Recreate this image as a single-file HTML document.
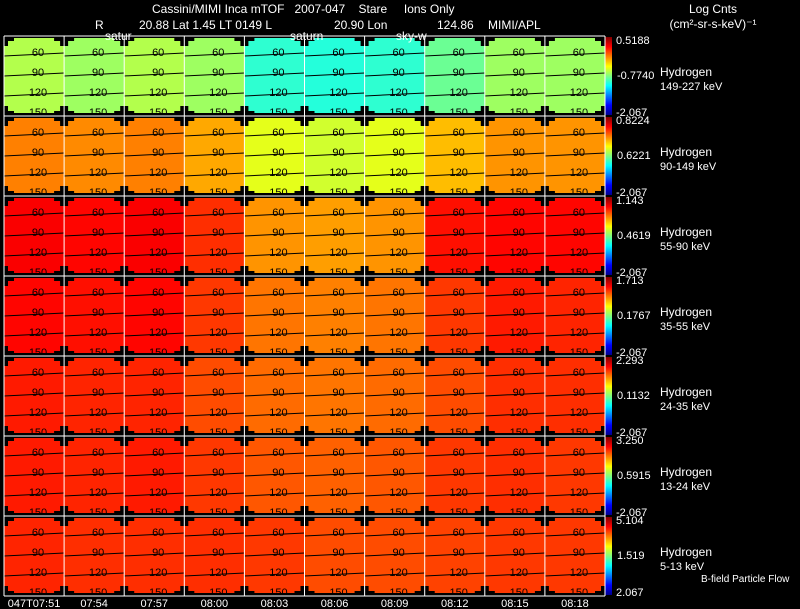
<!DOCTYPE html>
<html><head><meta charset="utf-8">
<style>
html,body{margin:0;padding:0;background:#000;}
svg{display:block;font-family:"Liberation Sans",Arial,sans-serif;}
text{white-space:pre;}
.w{fill:#fff;font-size:12px;}
.n{fill:#000;font-size:11px;}
</style></head>
<body>
<svg id="chart" width="800" height="609" viewBox="0 0 800 609">
<defs>
<linearGradient id="jet" x1="0" y1="1" x2="0" y2="0">
<stop offset="0" stop-color="#00008f"/><stop offset="0.125" stop-color="#0000ff"/>
<stop offset="0.375" stop-color="#00ffff"/><stop offset="0.625" stop-color="#ffff00"/>
<stop offset="0.875" stop-color="#ff0000"/><stop offset="1" stop-color="#800000"/>
</linearGradient>
</defs>
<text class="w" x="152" y="13" xml:space="preserve">Cassini/MIMI Inca mTOF   2007-047    Stare     Ions Only</text>
<g>
<text class="w" x="95" y="29">R</text>
<text class="w" x="139" y="29">20.88 Lat 1.45 LT 0149 L</text>
<text class="w" x="334" y="29">20.90 Lon</text>
<text class="w" x="437" y="29">124.86</text>
<text class="w" x="488" y="29">MIMI/APL</text>
</g>
<text class="w" x="713" y="13" text-anchor="middle">Log Cnts</text>
<text class="w" x="713" y="28" text-anchor="middle">(cm²-sr-s-keV)⁻¹</text>
<g id="panels"></g>
<text class="w" x="105" y="40">satur</text>
<text class="w" x="290" y="40">saturn</text>
<text class="w" x="396" y="40">sky-w</text>
<text class="w" x="701" y="582" style="font-size:10px">B-field Particle Flow</text>
</svg>
<script>
const times=["047T07:51","07:54","07:57","08:00","08:03","08:06","08:09","08:12","08:15","08:18"];
const channels=["149-227 keV","90-149 keV","55-90 keV","35-55 keV","24-35 keV","13-24 keV","5-13 keV"];
const cbTop=["0.5188","0.8224","1.143","1.713","2.293","3.250","5.104"];
const cbMid=["-0.7740","0.6221","0.4619","0.1767","0.1132","0.5915","1.519"];
const cbBot=["-2.067","-2.067","-2.067","-2.067","-2.067","-2.067","2.067"];
const angleTicks=["60","90","120","150"];
const levels=[
[0.55,0.53,0.55,0.53,0.42,0.41,0.42,0.48,0.53,0.53],
[0.75,0.74,0.75,0.71,0.60,0.58,0.60,0.69,0.73,0.73],
[0.88,0.87,0.88,0.83,0.73,0.72,0.73,0.86,0.87,0.87],
[0.87,0.86,0.87,0.82,0.76,0.75,0.76,0.82,0.85,0.84],
[0.85,0.84,0.84,0.80,0.77,0.76,0.77,0.80,0.83,0.83],
[0.85,0.84,0.85,0.82,0.79,0.78,0.79,0.82,0.83,0.82],
[0.84,0.83,0.83,0.83,0.82,0.80,0.80,0.81,0.82,0.82]];
const X0=4,CW=60.1,Y0=36,RH=80;
const colX=i=>X0+i*CW, rowY=r=>Y0+r*RH;
function jet(v){
  const st=[[0,0,0,143],[0.125,0,0,255],[0.375,0,255,255],[0.625,255,255,0],[0.875,255,0,0],[1,128,0,0]];
  for(let i=1;i<st.length;i++){if(v<=st[i][0]){const a=st[i-1],b=st[i],t=(v-a[0])/(b[0]-a[0]);
    return `rgb(${Math.round(a[1]+t*(b[1]-a[1]))},${Math.round(a[2]+t*(b[2]-a[2]))},${Math.round(a[3]+t*(b[3]-a[3]))})`;}}
  return "rgb(128,0,0)";
}
const NS="http://www.w3.org/2000/svg";
const g=document.getElementById("panels");
function mk(tag,attrs,parent){const e=document.createElementNS(NS,tag);for(const k in attrs)e.setAttribute(k,attrs[k]);(parent||g).appendChild(e);return e;}
levels.forEach((row,r)=>{
  const y=rowY(r);
  row.forEach((v,c)=>{
    const x=colX(c);
    const p=mk("g",{});
    
    
    mk("rect",{x:x,y:y,width:CW,height:RH,fill:jet(v)},p);
    [[0,0,10,5],[0,0,4,10],[CW-10,0,10,5],[CW-4,0,4,10],[0,RH-5,10,5],[0,RH-10,4,10],[CW-10,RH-5,10,5],[CW-4,RH-10,4,10],[0,RH-3,CW,3],[0,0,CW,2]].forEach(b=>mk("rect",{x:x+b[0],y:y+b[1],width:b[2],height:b[3],fill:"#000"},p));
    angleTicks.forEach((t,k)=>{
      const ly=y+19+k*20;
      mk("path",{d:`M${x} ${ly+1} L${x+CW} ${ly-2}`,stroke:"#000","stroke-width":1,fill:"none"},p);
      const tx=mk("text",{x:x+34,y:ly+1,"text-anchor":"middle",class:"n"},p);tx.textContent=t;
    });
  });
  const cb=mk("rect",{x:605,y:y+1,width:7,height:RH-2,fill:"url(#jet)"});
  
  
  const t1=mk("text",{x:616,y:y+8,class:"w",style:"font-size:11px"});t1.textContent=cbTop[r];
  const t2=mk("text",{x:617,y:y+43,class:"w",style:"font-size:11px"});t2.textContent=cbMid[r];
  const t3=mk("text",{x:616,y:y+80,class:"w",style:"font-size:11px"});t3.textContent=cbBot[r];
  const h=mk("text",{x:660,y:y+40,class:"w"});h.textContent="Hydrogen";
  
  
  const e=mk("text",{x:660,y:y+54,class:"w",style:"font-size:11px"});e.textContent=channels[r];
});
for(let c=0;c<=10;c++){mk("line",{x1:colX(c),y1:Y0,x2:colX(c),y2:Y0+7*RH,stroke:"#fff","stroke-width":1});}
for(let r=0;r<=7;r++){mk("line",{x1:X0,y1:rowY(r),x2:colX(10),y2:rowY(r),stroke:"#fff","stroke-width":1});}
times.forEach((t,c)=>{const tx=mk("text",{x:colX(c)+CW/2,y:607,"text-anchor":"middle",class:"w",style:"font-size:11px"});tx.textContent=t;
  
  });
</script>
</body></html>
